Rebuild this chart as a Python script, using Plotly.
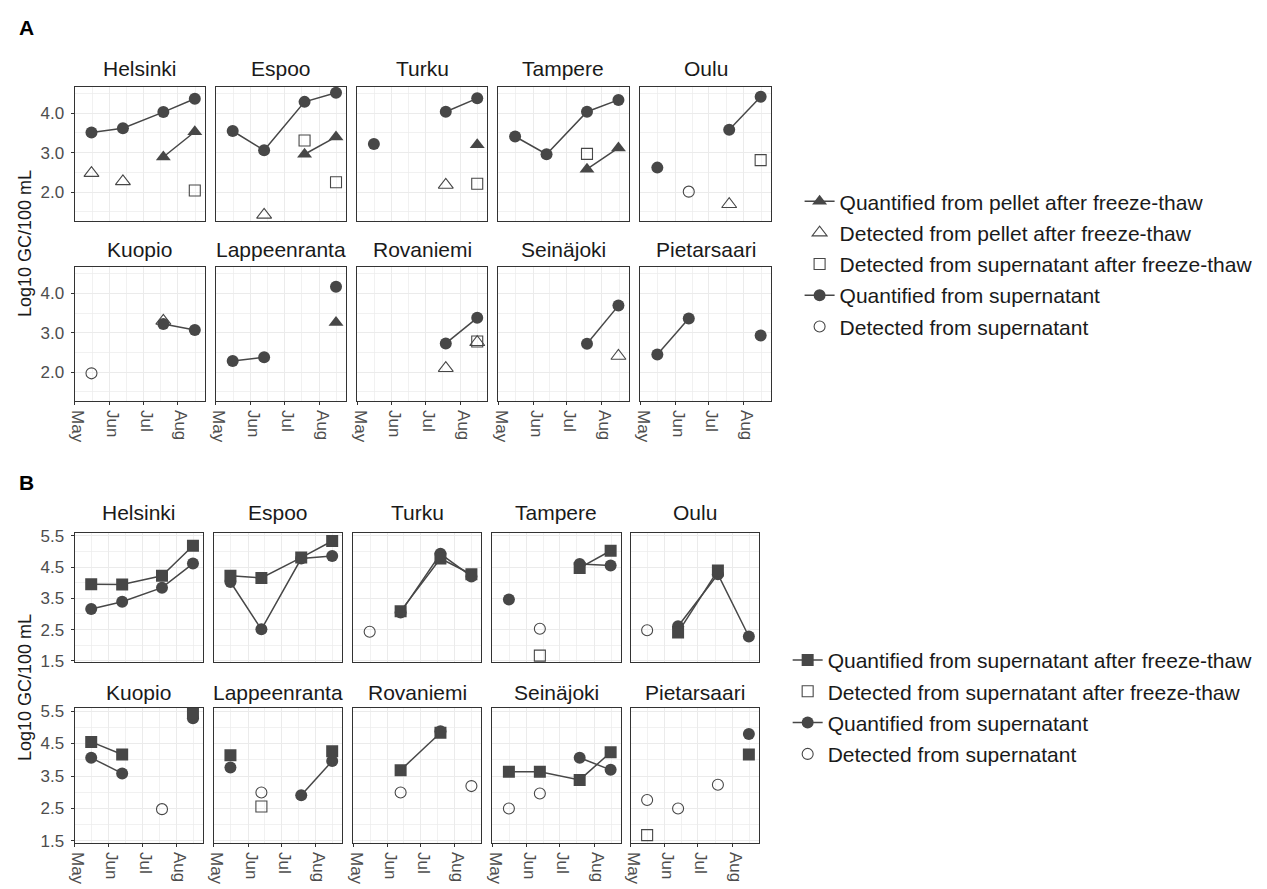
import plotly.graph_objects as go

# ---------------- data ----------------
DATES = ["2022-05-16", "2022-06-13", "2022-07-19", "2022-08-16"]
CITIES = ["Helsinki", "Espoo", "Turku", "Tampere", "Oulu",
          "Kuopio", "Lappeenranta", "Rovaniemi", "Seinäjoki", "Pietarsaari"]
MONTH_TICKS = ["2022-05-01", "2022-06-01", "2022-07-01", "2022-08-01"]
MONTH_MINOR = ["2022-05-16 12:00", "2022-06-16", "2022-07-16 12:00", "2022-08-16 12:00"]
MONTH_LABELS = ["May", "Jun", "Jul", "Aug"]
A_YTICKS = [2.0, 3.0, 4.0]
A_YMINOR = [1.5, 2.5, 3.5, 4.5]
B_YTICKS = [1.5, 2.5, 3.5, 4.5, 5.5]
B_YMINOR = [2.0, 3.0, 4.0, 5.0]
N = None

# Panel A
A_PELLET_QUANT = [
    [N, N, 2.89, 3.53], [N, N, 2.96, 3.40], [N, N, N, 3.20], [N, N, 2.58, 3.12], [N, N, N, N],
    [N, N, N, N], [N, N, N, 3.26], [N, N, N, N], [N, N, N, N], [N, N, N, N]]
A_PELLET_DET = [
    [2.48, 2.27, N, N], [N, 1.42, N, N], [N, N, 2.18, N], [N, N, N, N], [N, N, 1.69, N],
    [N, N, 3.30, N], [N, N, N, N], [N, N, 2.10, 2.76], [N, N, N, 2.41], [N, N, N, N]]
A_SUPFT_DET = [
    [N, N, N, 2.04], [N, N, 3.31, 2.25], [N, N, N, 2.21], [N, N, 2.97, N], [N, N, N, 2.81],
    [N, N, N, N], [N, N, N, N], [N, N, N, 2.78], [N, N, N, N], [N, N, N, N]]
A_SUP_QUANT = [
    [3.51, 3.62, 4.03, 4.37], [3.55, 3.06, 4.29, 4.52], [3.22, N, 4.04, 4.38],
    [3.41, 2.96, 4.04, 4.34], [2.62, N, 3.58, 4.42], [N, N, 3.22, 3.07],
    [2.28, 2.38, N, 4.17], [N, N, 2.73, 3.38], [N, N, 2.72, 3.69], [2.45, 3.36, N, 2.93]]
A_SUP_DET = [
    [N, N, N, N], [N, N, N, N], [N, N, N, N], [N, N, N, N], [N, 2.01, N, N],
    [1.97, N, N, N], [N, N, N, N], [N, N, N, N], [N, N, N, N], [N, N, N, N]]

# Panel B
B_SUPFT_QUANT = [
    [3.95, 3.94, 4.22, 5.18], [4.22, 4.15, 4.80, 5.33], [N, 3.09, 4.77, 4.27],
    [N, N, 4.47, 5.02], [N, 2.41, 4.39, N], [4.55, 4.16, N, 5.42],
    [4.14, N, N, 4.26], [N, 3.68, 4.83, N], [3.63, 3.63, 3.38, 4.23], [N, N, N, 4.16]]
B_SUPFT_DET = [
    [N, N, N, N], [N, N, N, N], [N, N, N, N], [N, 1.67, N, N], [N, N, N, N],
    [N, N, N, N], [N, 2.56, N, N], [N, N, N, N], [N, N, N, N], [1.68, N, N, N]]
B_SUP_QUANT = [
    [3.16, 3.39, 3.84, 4.61], [4.02, 2.51, 4.77, 4.85], [N, 3.05, 4.92, 4.20],
    [3.46, N, 4.60, 4.55], [N, 2.61, 4.27, 2.28], [4.06, 3.58, N, 5.28],
    [3.76, N, 2.91, 3.96], [N, N, 4.88, N], [N, N, 4.06, 3.69], [N, N, N, 4.79]]
B_SUP_DET = [
    [N, N, N, N], [N, N, N, N], [2.43, N, N, N], [N, 2.53, N, N], [2.48, N, N, N],
    [N, N, 2.48, N], [N, 2.99, N, N], [N, 2.99, N, 3.19], [2.50, 2.96, N, N], [2.76, 2.50, 3.23, N]]

# ---------------- layout geometry (page pixels) ----------------
FW, FH = 1267, 889
A_X = [(68, 199), (210, 341), (352, 483), (494, 625), (637, 768)]
A_Y = [(82, 218), (265, 401)]
B_X = [(68, 197), (208, 337), (348, 477), (488, 617), (627, 756)]
B_Y = [(535, 667), (713, 850)]
STRIP_Y = [[63, 247], [515, 697]]
A_RANGE = [1.275, 4.675]
B_RANGE = [1.45, 5.6]
X_RANGE = ["2022-05-01", "2022-08-25"]

DARK = "#474747"
GRID = "#EBEBEB"
BORDER = "#333333"
FONT = "Liberation Sans, Arial, Helvetica, sans-serif"


def px(x):
    return x / FW


def py(y):
    return 1 - y / FH


fig = go.Figure()
layout = dict(width=FW, height=FH, margin=dict(l=0, r=0, t=0, b=0),
              paper_bgcolor="white", plot_bgcolor="white",
              font=dict(family=FONT, color="#1a1a1a"), showlegend=True,
              hovermode=False)
annotations = []


def ax_name(k, letter):
    return letter if k == 1 else f"{letter}{k}"


for s, (xs, ys, yr, yt, ym) in enumerate([(A_X, A_Y, A_RANGE, A_YTICKS, A_YMINOR),
                                         (B_X, B_Y, B_RANGE, B_YTICKS, B_YMINOR)]):
    for i, city in enumerate(CITIES):
        k = s * 10 + i + 1
        row, col = divmod(i, 5)
        x0, x1 = xs[col]
        top, bot = ys[row]
        layout["xaxis" if k == 1 else f"xaxis{k}"] = dict(
            type="date", domain=[px(x0), px(x1)], anchor=ax_name(k, "y"), range=X_RANGE,
            tickmode="array", tickvals=MONTH_TICKS, ticktext=MONTH_LABELS, tickangle=90,
            showticklabels=(row == 1), ticks="outside" if row == 1 else "", ticklen=3,
            tickcolor=BORDER, ticklabelshift=3, ticklabelstandoff=2,
            showgrid=True, gridcolor=GRID, gridwidth=1,
            minor=dict(tickmode="array", tickvals=MONTH_MINOR, showgrid=True, gridcolor=GRID,
                       gridwidth=0.7, ticks=""),
            showline=True, linecolor=BORDER, linewidth=1, mirror=True, zeroline=False,
            tickfont=dict(size=17, color="#4d4d4d"), fixedrange=True)
        layout["yaxis" if k == 1 else f"yaxis{k}"] = dict(
            domain=[py(bot), py(top)], anchor=ax_name(k, "x"), range=yr,
            tickmode="array", tickvals=yt, ticktext=[f"{v:.1f}" for v in yt],
            showticklabels=(col == 0), ticks="outside" if col == 0 else "", ticklen=3,
            tickcolor=BORDER, ticklabelstandoff=3,
            showgrid=True, gridcolor=GRID, gridwidth=1,
            minor=dict(tickmode="array", tickvals=ym, showgrid=True, gridcolor=GRID,
                       gridwidth=0.7, ticks=""),
            showline=True, linecolor=BORDER, linewidth=1, mirror=True, zeroline=False,
            tickfont=dict(size=17, color="#4d4d4d"), fixedrange=True)
        annotations.append(dict(text=city, x=px((x0 + x1) / 2), y=py(STRIP_Y[s][row]),
                                xref="paper", yref="paper", showarrow=False,
                                xanchor="center", yanchor="middle",
                                font=dict(size=21, color="#1a1a1a")))


def add_series(section, values, name, symbol, lines, rank, group, size):
    shown = False
    legend = "legend" if section == 0 else "legend2"
    is_open = symbol.endswith("-open")
    for i, vals in enumerate(values):
        if all(v is None for v in vals) and shown:
            continue
        k = section * 10 + i + 1
        fig.add_trace(go.Scatter(
            x=DATES, y=vals, name=name, legend=legend, legendgroup=group, legendrank=rank,
            showlegend=not shown, mode="lines+markers" if lines else "markers",
            xaxis=ax_name(k, "x"), yaxis=ax_name(k, "y"), connectgaps=False,
            line=dict(color=DARK, width=1.5),
            marker=dict(symbol=symbol, size=size, color=DARK,
                        line=dict(color=DARK, width=1.1 if is_open else 0)),
            hoverinfo="skip"))
        shown = True


# Panel A (open markers first, filled on top)
add_series(0, A_SUPFT_DET, "Detected from supernatant after freeze-thaw", "square-open", False, 3, "a3", 11)
add_series(0, A_PELLET_DET, "Detected from pellet after freeze-thaw", "triangle-up-open", False, 2, "a2", 13)
add_series(0, A_SUP_DET, "Detected from supernatant", "circle-open", False, 5, "a5", 11)
add_series(0, A_PELLET_QUANT, "Quantified from pellet after freeze-thaw", "triangle-up", True, 1, "a1", 13)
add_series(0, A_SUP_QUANT, "Quantified from supernatant", "circle", True, 4, "a4", 12)

# Panel B
add_series(1, B_SUPFT_DET, "Detected from supernatant after freeze-thaw", "square-open", False, 2, "b2", 11)
add_series(1, B_SUP_DET, "Detected from supernatant", "circle-open", False, 4, "b4", 11)
add_series(1, B_SUP_QUANT, "Quantified from supernatant", "circle", True, 3, "b3", 12)
add_series(1, B_SUPFT_QUANT, "Quantified from supernatant after freeze-thaw", "square", True, 1, "b1", 12)

# titles
for label, yc in (("<b>A</b>", 22), ("<b>B</b>", 484)):
    annotations.append(dict(text=label, x=px(10), y=py(yc), xref="paper", yref="paper",
                            showarrow=False, xanchor="left", yanchor="middle",
                            font=dict(size=21, color="black")))
for yc in (241, 692):
    annotations.append(dict(text="Log10 GC/100 mL", x=px(18), y=py(yc), xref="paper",
                            yref="paper", showarrow=False, textangle=-90,
                            xanchor="center", yanchor="middle",
                            font=dict(size=18, color="#1a1a1a")))

layout["annotations"] = annotations
layout["legend"] = dict(x=px(797), y=py(178), xanchor="left", yanchor="top",
                        font=dict(size=21, color="#1a1a1a"), tracegroupgap=1,
                        bgcolor="rgba(0,0,0,0)", traceorder="grouped")
layout["legend2"] = dict(x=px(785), y=py(644), xanchor="left", yanchor="top",
                         font=dict(size=21, color="#1a1a1a"), tracegroupgap=1,
                         bgcolor="rgba(0,0,0,0)", traceorder="grouped")
fig.update_layout(**layout)

# remove the default page margin so the figure sits at the page origin
fig.write_html("out.html",
               config={"displayModeBar": False, "staticPlot": True},
               post_script="document.body.style.margin='0';"
                           "document.documentElement.style.overflow='hidden';")
